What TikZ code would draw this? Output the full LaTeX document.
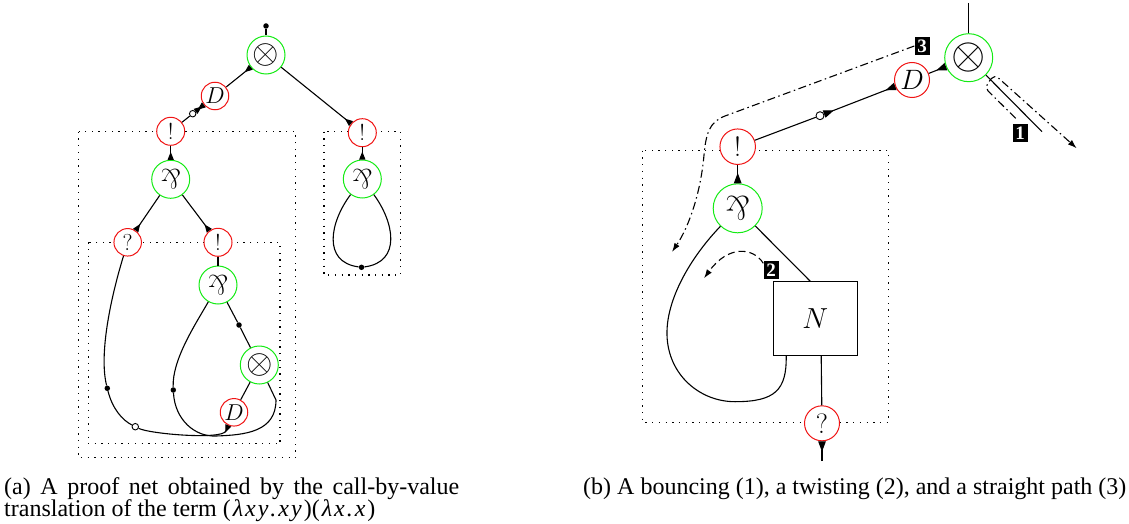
\RequirePackage{fix-cm}
\documentclass[tikz,border=0pt]{standalone}
\usepackage{fontspec}
\usepackage{graphicx}
\usetikzlibrary{arrows.meta,calc}
\newfontfamily\capfont{Liberation Serif}
\definecolor{netgreen}{RGB}{20,235,20}
\definecolor{netred}{RGB}{240,20,20}
\newcommand{\parsym}{\rotatebox[origin=c]{180}{\&}}
\newcommand{\lk}{\kern2pt}
\tikzset{
  tri/.tip={Triangle[reversed,length=8pt,width=6pt]},
  trib/.tip={Triangle[reversed,length=10.5pt,width=7.5pt]},
}
\begin{document}
\begin{tikzpicture}[x=1pt,y=-1pt,
  wire/.style={line width=1.1pt},
  gnode/.style={circle, draw=netgreen, line width=1pt, fill=white, inner sep=0pt, minimum size=#1},
  rnode/.style={circle, draw=netred, line width=1pt, fill=white, inner sep=0pt, minimum size=#1},
  bdot/.style={circle, fill=black, inner sep=0pt, minimum size=5.5pt},
  odot/.style={circle, draw=black, fill=white, line width=0.9pt, inner sep=0pt, minimum size=6.5pt},
  boxline/.style={line width=1.3pt, dash pattern=on 1.3pt off 5.4pt},
  dashdot/.style={line width=1.1pt, dash pattern=on 8pt off 3.5pt on 1.5pt off 3.5pt},
  dashpath/.style={line width=1.1pt, dash pattern=on 7pt off 4pt},
  lbl/.style={fill=black, text=white, inner sep=0pt, minimum width=15pt, minimum height=18pt,
              font=\capfont\bfseries\fontsize{19}{19}\selectfont},
  capt/.style={anchor=base west, inner sep=0pt, font=\capfont\fontsize{24}{24}\selectfont},
  tensL/.style={font=\fontsize{34}{34}\selectfont},
  tensR/.style={font=\fontsize{44}{44}\selectfont},
  parL/.style={font=\fontsize{28}{28}\selectfont},
  parR/.style={font=\fontsize{34}{34}\selectfont},
  symL/.style={font=\fontsize{23}{23}\selectfont},
  symR/.style={font=\fontsize{28}{28}\selectfont},
  pathtip/.style={-{Latex[length=9pt,width=6pt]}},
]
\useasboundingbox (0,0) rectangle (1129,524);

% ---------- (a) boxes ----------
\draw[boxline] (78.5,131.7) rectangle (295.7,457.7);
\draw[boxline] (88.3,242.3) rectangle (280,443.7);
\draw[boxline] (324,131.7) rectangle (400.7,275);

% ---------- (a) nodes ----------
\node[bdot] (top1) at (266,26) {};
\node[gnode=38, tensL] (t1) at (266,55) {$\otimes$};
\node[rnode=27.5, symL] (d1) at (215,96) {$D$};
\node[odot] (oc1) at (192.7,113.7) {};
\node[rnode=28, symL] (b1) at (170.7,131.3) {!};
\node[gnode=38, parL] (p1) at (170.7,179.3) {\parsym};
\node[rnode=27.5, symL] (q1) at (127.7,242.3) {?};
\node[rnode=28, symL] (b2) at (218,242.3) {!};
\node[gnode=38, parL] (p2) at (218,285) {\parsym};
\node[bdot] (dt2) at (239,325) {};
\node[gnode=38, tensL] (t2) at (259.3,365) {$\otimes$};
\node[rnode=27.5, symL] (d2) at (234,412.3) {$D$};
\node[bdot] (dA) at (107.3,388.3) {};
\node[odot] (ocA) at (135.3,426.7) {};
\node[bdot] (dB) at (173.3,390) {};
\node[rnode=28, symL] (b3) at (362.3,132.7) {!};
\node[gnode=38, parL] (p3) at (362.3,179) {\parsym};
\node[bdot] (dot3) at (361.5,267.3) {};

% ---------- (a) wires ----------
\draw[wire] (top1) -- (t1);
\draw[wire,-tri] (d1) -- (t1);
\draw[wire,tri-tri] (b1) -- (oc1) -- (d1);
\draw[wire,-tri] (b1) -- (p1);
\draw[wire,-tri] (t1) -- (b3);
\draw[wire,-tri] (b3) -- (p3);
\draw[wire,-tri] (p1) -- (q1);
\draw[wire,-tri] (p1) -- (b2);
\draw[wire] (b2) -- (p2);
\draw[wire] (p2) -- (dt2) -- (t2);
\draw[wire] (t2) -- (d2);
\draw[wire,-tri] (q1) .. controls (110,300) and (99,355) .. (dA)
  .. controls (112.3,408.3) and (122,420) .. (ocA)
  .. controls (150,434) and (222,440) .. (d2);
\draw[wire] (p2) .. controls (195,325) and (172,360) .. (dB)
  .. controls (175,420) and (195,437) .. (216,436)
  .. controls (245,435) and (276,432) .. (276,400) -- (t2);
\draw[wire] (p3) .. controls (330,222) and (322,262) .. (dot3)
  .. controls (402,262) and (394,222) .. (p3);

% ---------- (b) box ----------
\draw[boxline] (642.7,150.7) rectangle (888.3,422.7);

% ---------- (b) nodes ----------
\coordinate (topR) at (968.7,3);
\node[gnode=48, tensR] (tR) at (968.7,57.7) {$\otimes$};
\coordinate (wR) at (1042,131.7);
\node[rnode=35, symR] (dR) at (912,80) {$D$};
\node[odot, minimum size=8pt] (ocR) at (820,115.7) {};
\node[rnode=35.5, symR] (bR) at (737.7,146.7) {!};
\node[gnode=49, parR] (pR) at (737.7,208.3) {\parsym};
\node[draw, line width=1pt, fill=white, minimum width=84pt, minimum height=74pt,
      inner sep=0pt, font=\fontsize{29}{29}\selectfont] (nb) at (815.3,318.7) {$N$};
\node[rnode=35, symR] (qR) at (822,423.3) {?};
\coordinate (qend) at (822,461);
\coordinate (nTop) at ($(nb.north west)+(37.4,0)$);
\coordinate (nLoop) at ($(nb.south west)+(13.4,0)$);
\coordinate (nOut) at ($(nb.south west)+(48.4,0)$);

% ---------- (b) wires ----------
\draw[wire] (topR) -- (tR);
\draw[wire] (tR) -- (wR);
\draw[wire,-trib] (dR) -- (tR);
\draw[wire,trib-trib] (bR) -- (ocR) -- (dR);
\draw[wire,-trib] (bR) -- (pR);
\draw[wire] (pR) -- (nTop);
\draw[wire] (pR) .. controls (690,258) and (666,300) .. (667,335)
  .. controls (668,375) and (700,401.7) .. (735,401.7)
  .. controls (775,401.7) and (786.7,390) .. (nLoop);
\draw[wire] (nOut) -- (qR);
\draw[wire,-trib] (qend) -- (qR);

% ---------- (b) paths ----------
\node[lbl] (l1) at (1020,133) {1};
\node[lbl] (l2) at (771,270) {2};
\node[lbl] (l3) at (922,46) {3};
\coordinate (s1) at (1015.7,118.3);
\coordinate (e1) at (1076.7,148.3);
\draw[dashdot, pathtip, rounded corners=5pt] (s1) -- (984.5,87.5) -- (994.5,74.5) -- (e1);
\coordinate (s2) at (763.3,263.3);
\coordinate (e2) at (704,278.3);
\draw[dashpath, pathtip] (s2) .. controls (753,247) and (728,245) .. (e2);
\coordinate (e3) at (672,252);
\draw[dashdot, pathtip] (l3.west) -- (725,116) .. controls (709,122) and (706,134) .. (704,155)
  .. controls (701,190) and (690,225) .. (e3);

% ---------- captions ----------
\node[capt] (capa1) at (4,494) {\makebox[455pt][s]{(a) A proof net obtained by the call-by-value}};
\node[capt] (capa2) at (4,516) {translation of the term
  (\lk{\itshape λ\lk x\lk y\lk.\lk x\lk y}\lk)(\lk{\itshape λ\lk x\lk.\lk x}\lk)};
\node[capt] (capb) at (583,494) {(b) A bouncing (1), a twisting (2), and a straight path (3)};
\end{tikzpicture}
\end{document}
